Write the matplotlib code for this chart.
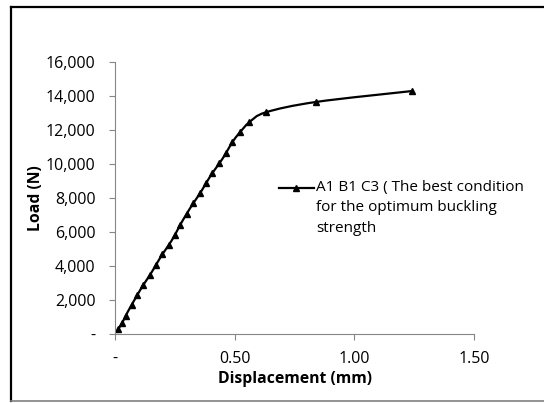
import numpy as np
import matplotlib
matplotlib.use("Agg")
import matplotlib.pyplot as plt
from matplotlib.path import Path
from matplotlib.patches import PathPatch
from matplotlib.lines import Line2D
from matplotlib.ticker import FuncFormatter

plt.rcParams['font.family'] = ['Open Sans', 'DejaVu Sans']

# data
disp = [0.014, 0.030, 0.044, 0.069, 0.093, 0.118, 0.146, 0.171, 0.198, 0.225,
        0.250, 0.272, 0.299, 0.327, 0.355, 0.380, 0.406, 0.436, 0.463, 0.490,
        0.522, 0.561, 0.630, 0.840, 1.240]
load = [300, 650, 1060, 1700, 2290, 2880, 3470, 4060, 4690, 5240,
        5820, 6410, 7060, 7690, 8270, 8860, 9450, 10040, 10620, 11280,
        11860, 12450, 13040, 13650, 14290]
series_name = "A1 B1 C3 ( The best condition\nfor the optimum buckling\nstrength"
x_ticks = [0, 0.5, 1.0, 1.5]
y_ticks = [0, 2000, 4000, 6000, 8000, 10000, 12000, 14000, 16000]

fig = plt.figure(figsize=(5.44, 4.03), dpi=100)
ax = fig.add_axes([115/544, 1-334/403, 359/544, 272/403])

# smooth line like excel (catmull-rom -> bezier segments)
pts = np.column_stack([disp, load])
verts = [tuple(pts[0])]
codes = [Path.MOVETO]
n = len(pts)
for i in range(n-1):
    p0 = pts[i-1] if i > 0 else pts[i]
    p1 = pts[i]
    p2 = pts[i+1]
    p3 = pts[i+2] if i+2 < n else pts[i+1]
    c1 = p1 + (p2 - p0) / 6
    c2 = p2 - (p3 - p1) / 6
    verts += [tuple(c1), tuple(c2), tuple(p2)]
    codes += [Path.CURVE4]*3
ax.add_patch(PathPatch(Path(verts, codes), fill=False, edgecolor='black', lw=1.6))
ax.plot(disp, load, linestyle='none', marker='^', color='black', markersize=4.5)

ax.set_xlim(0, 1.5)
ax.set_ylim(0, 16000)
ax.set_xticks(x_ticks)
ax.set_yticks(y_ticks)
ax.xaxis.set_major_formatter(FuncFormatter(lambda v, p: '-' if v == 0 else f'{v:.2f}'))
ax.yaxis.set_major_formatter(FuncFormatter(lambda v, p: '-' if v == 0 else f'{v:,.0f}'))

for s in ['top', 'right']:
    ax.spines[s].set_visible(False)
for s in ['left', 'bottom']:
    ax.spines[s].set_color('#868686')
    ax.spines[s].set_linewidth(0.8)
ax.tick_params(direction='out', length=4, width=0.8, color='#868686', labelsize=11.5)
ax.tick_params(axis='y', pad=10)
ax.tick_params(axis='x', pad=8)

ax.set_xlabel('Displacement (mm)', fontsize=11.3, fontweight='bold', labelpad=3)
ax.set_ylabel('Load (N)', fontsize=11.3, fontweight='bold', labelpad=1.5)

# legend drawn by hand so the handle sits on the first line
ax.add_line(Line2D([0.457, 0.554], [0.537, 0.537], transform=ax.transAxes,
                   color='black', lw=1.6, clip_on=False))
ax.add_line(Line2D([0.505], [0.537], transform=ax.transAxes, marker='^',
                   color='black', markersize=4.5, clip_on=False))
ax.text(0.561, 0.537 + 0.03, series_name, transform=ax.transAxes, ha='left', va='top',
        fontsize=11, linespacing=1.5)

# outer frame
fig.add_artist(Line2D([11/544, 11/544], [1-7/403, 1-401/403], color='black', lw=1.6))
fig.add_artist(Line2D([11/544, 1], [1-7/403, 1-7/403], color='black', lw=1.6))
fig.add_artist(Line2D([11/544, 1], [1-401/403, 1-401/403], color='#808080', lw=1.2))

fig.savefig('out.png', dpi=100)
